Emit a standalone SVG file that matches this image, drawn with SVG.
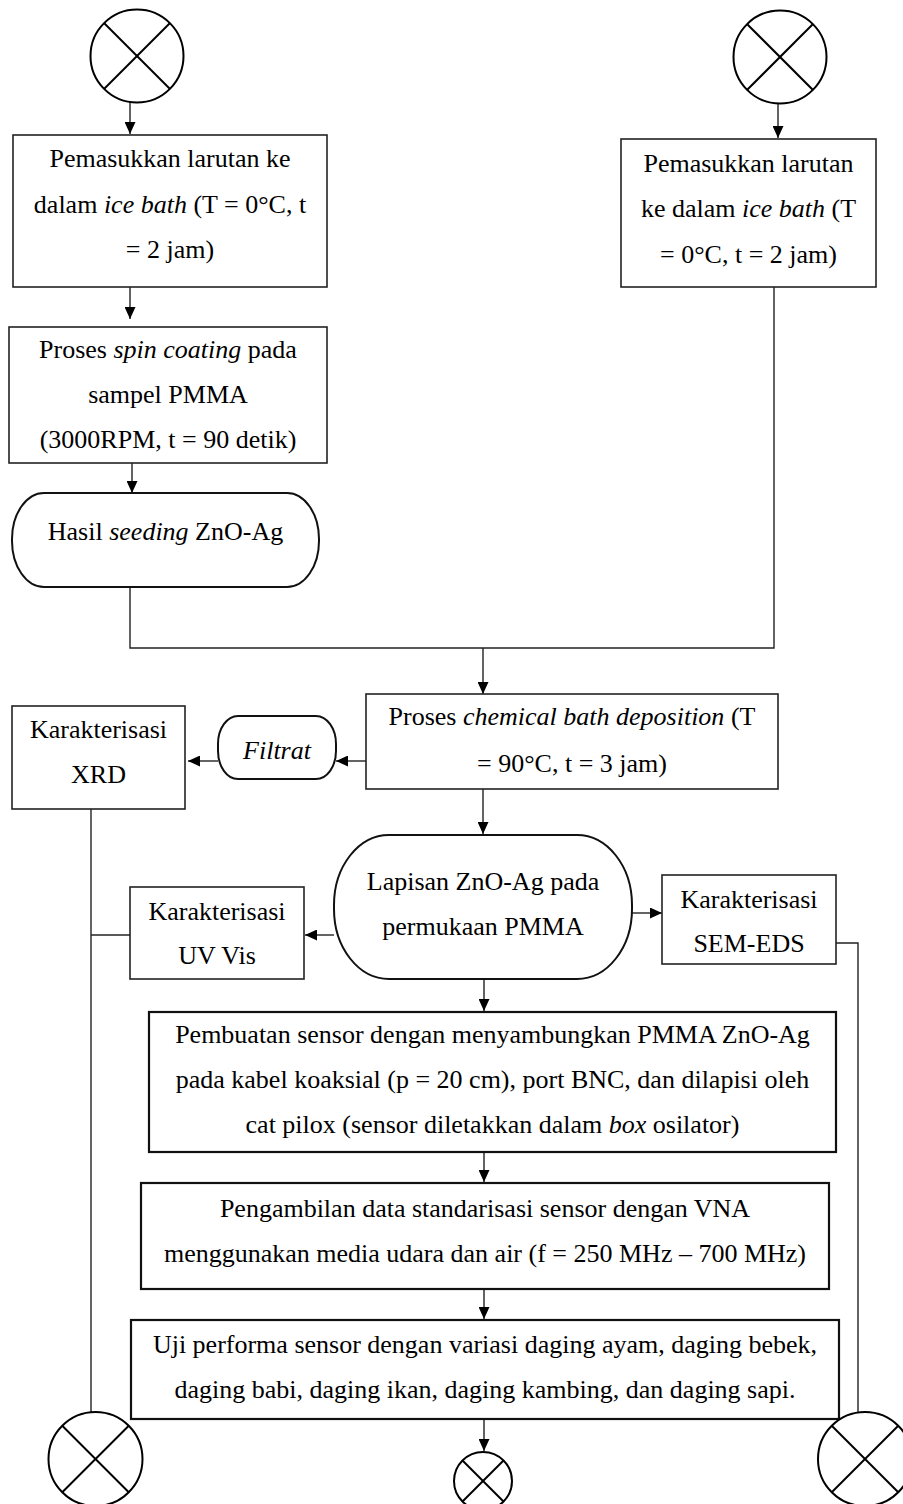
<svg xmlns="http://www.w3.org/2000/svg" width="903" height="1504" viewBox="0 0 903 1504">
<defs>
<marker id="arr" markerUnits="userSpaceOnUse" markerWidth="12" markerHeight="11" refX="12" refY="5.5" orient="auto">
<path d="M0,0 L12,5.5 L0,11 z" fill="#000"/>
</marker>
<style>
text{font-family:"Liberation Serif","Times New Roman",serif;font-size:26px;fill:#000;text-anchor:middle}
.i{font-style:italic}
.box{fill:#fff;stroke:#222;stroke-width:1.6}
.bbox{fill:#fff;stroke:#111;stroke-width:2.2}
.term{fill:#fff;stroke:#111;stroke-width:2}
.circ{fill:#fff;stroke:#000;stroke-width:2}
.x{stroke:#000;stroke-width:2}
.c{fill:none;stroke:#222;stroke-width:1.4}
.a{fill:none;stroke:#222;stroke-width:1.4;marker-end:url(#arr)}
</style>
</defs>
<rect width="903" height="1504" fill="#fff"/>

<g id="connectors">
<line class="a" x1="130" y1="102" x2="130" y2="134"/>
<line class="a" x1="778" y1="103" x2="778" y2="138"/>
<line class="a" x1="130" y1="287" x2="130" y2="319"/>
<line class="a" x1="132" y1="463" x2="132" y2="493"/>
<polyline class="c" points="130,587 130,648 774,648 774,287"/>
<line class="a" x1="483" y1="648" x2="483" y2="694"/>
<line class="a" x1="366" y1="761" x2="336" y2="761"/>
<line class="a" x1="218" y1="761" x2="188" y2="761"/>
<line class="a" x1="483" y1="789" x2="483" y2="834"/>
<line class="a" x1="334" y1="935" x2="305" y2="935"/>
<line class="a" x1="632" y1="913" x2="662" y2="913"/>
<line class="a" x1="484" y1="979" x2="484" y2="1011"/>
<line class="a" x1="484" y1="1152" x2="484" y2="1182"/>
<line class="a" x1="484" y1="1289" x2="484" y2="1319"/>
<line class="a" x1="484" y1="1419" x2="484" y2="1451"/>
<polyline class="c" points="91,809 91,1412"/>
<line class="c" x1="91" y1="935" x2="130" y2="935"/>
<polyline class="c" points="836,943 858,943 858,1412"/>
</g>

<g id="start-left">
<circle class="circ" cx="137" cy="56" r="46.5"/>
<line class="x" x1="104" y1="23" x2="170" y2="89"/>
<line class="x" x1="170" y1="23" x2="104" y2="89"/>
</g>

<g id="start-right">
<circle class="circ" cx="780" cy="57" r="46.5"/>
<line class="x" x1="747" y1="24" x2="813" y2="90"/>
<line class="x" x1="813" y1="24" x2="747" y2="90"/>
</g>

<g id="box-icebath-left">
<rect class="box" x="13" y="135" width="314" height="152"/>
<text x="170" y="167">Pemasukkan larutan ke</text>
<text x="170" y="213">dalam <tspan class="i">ice bath</tspan> (T = 0°C, t</text>
<text x="170" y="258">= 2 jam)</text>
</g>

<g id="box-icebath-right">
<rect class="box" x="621" y="139" width="255" height="148"/>
<text x="748.5" y="172">Pemasukkan larutan</text>
<text x="748.5" y="217">ke dalam <tspan class="i">ice bath</tspan> (T</text>
<text x="748.5" y="263">= 0°C, t = 2 jam)</text>
</g>

<g id="box-spin">
<rect class="box" x="9" y="327" width="318" height="136"/>
<text x="168" y="358">Proses <tspan class="i">spin coating</tspan> pada</text>
<text x="168" y="403">sampel PMMA</text>
<text x="168" y="448">(3000RPM, t = 90 detik)</text>
</g>

<g id="term-seeding">
<rect class="term" x="12" y="493" width="307" height="94" rx="32" ry="46"/>
<text x="165.5" y="540">Hasil <tspan class="i">seeding</tspan> ZnO-Ag</text>
</g>

<g id="box-cbd">
<rect class="box" x="366" y="694" width="412" height="95"/>
<text x="572" y="725">Proses <tspan class="i">chemical bath deposition</tspan> (T</text>
<text x="572" y="772">= 90°C, t = 3 jam)</text>
</g>

<g id="term-filtrat">
<rect class="term" x="218" y="716" width="118" height="63" rx="20" ry="28"/>
<text x="277" y="759" class="i">Filtrat</text>
</g>

<g id="box-xrd">
<rect class="box" x="12" y="706" width="173" height="103"/>
<text x="98.5" y="738">Karakterisasi</text>
<text x="98.5" y="783">XRD</text>
</g>

<g id="term-lapisan">
<rect class="term" x="334" y="835" width="298" height="144" rx="55" ry="70"/>
<text x="483" y="890">Lapisan ZnO-Ag pada</text>
<text x="483" y="935">permukaan PMMA</text>
</g>

<g id="box-uvvis">
<rect class="box" x="130" y="887" width="174" height="92"/>
<text x="217" y="920">Karakterisasi</text>
<text x="217" y="964">UV Vis</text>
</g>

<g id="box-semeds">
<rect class="box" x="662" y="875" width="174" height="89"/>
<text x="749" y="908">Karakterisasi</text>
<text x="749" y="952">SEM-EDS</text>
</g>

<g id="box-sensor">
<rect class="bbox" x="149" y="1012" width="687" height="140"/>
<text x="492.5" y="1043">Pembuatan sensor dengan menyambungkan PMMA ZnO-Ag</text>
<text x="492.5" y="1088">pada kabel koaksial (p = 20 cm), port BNC, dan dilapisi oleh</text>
<text x="492.5" y="1133">cat pilox (sensor diletakkan dalam <tspan class="i">box</tspan> osilator)</text>
</g>

<g id="box-vna">
<rect class="bbox" x="141" y="1183" width="688" height="106"/>
<text x="485" y="1217">Pengambilan data standarisasi sensor dengan VNA</text>
<text x="485" y="1262">menggunakan media udara dan air (f = 250 MHz – 700 MHz)</text>
</g>

<g id="box-uji">
<rect class="bbox" x="131" y="1320" width="708" height="99"/>
<text x="485" y="1353">Uji performa sensor dengan variasi daging ayam, daging bebek,</text>
<text x="485" y="1398">daging babi, daging ikan, daging kambing, dan daging sapi.</text>
</g>

<g id="end-left">
<circle class="circ" cx="95.5" cy="1459" r="47"/>
<line class="x" x1="62" y1="1425.5" x2="129" y2="1492.5"/>
<line class="x" x1="129" y1="1425.5" x2="62" y2="1492.5"/>
</g>

<g id="end-middle">
<circle class="circ" cx="483" cy="1481" r="29"/>
<line class="x" x1="462.5" y1="1460.5" x2="503.5" y2="1501.5"/>
<line class="x" x1="503.5" y1="1460.5" x2="462.5" y2="1501.5"/>
</g>

<g id="end-right">
<circle class="circ" cx="865" cy="1459" r="47"/>
<line class="x" x1="831.5" y1="1425.5" x2="898.5" y2="1492.5"/>
<line class="x" x1="898.5" y1="1425.5" x2="831.5" y2="1492.5"/>
</g>
</svg>
